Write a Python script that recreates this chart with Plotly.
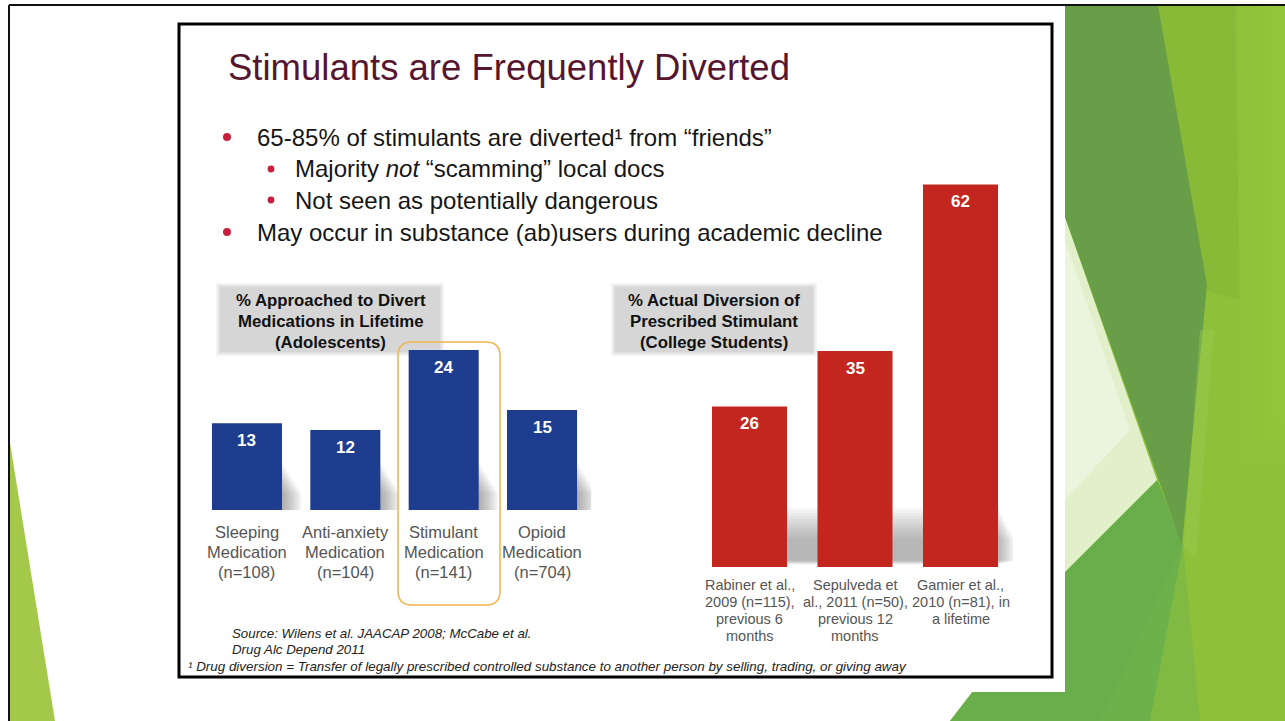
import plotly.graph_objects as go

W, H = 1285, 721

# ---- data -------------------------------------------------------------
adol_keys = ["Sleeping", "Anti-anxiety", "Stimulant", "Opioid"]
adol_labels = ["Sleeping<br>Medication<br>(n=108)",
               "Anti-anxiety<br>Medication<br>(n=104)",
               "Stimulant<br>Medication<br>(n=141)",
               "Opioid<br>Medication<br>(n=704)"]
adol_pct = [13, 12, 24, 15]

college_keys = ["Rabiner", "Sepulveda", "Gamier"]
college_labels = ["Rabiner et al.,<br>2009 (n=115),<br>previous 6<br>months",
                  "Sepulveda et<br>al., 2011 (n=50),<br>previous 12<br>months",
                  "Gamier et al.,<br>2010 (n=81), in<br>a lifetime"]
college_pct = [26, 35, 62]

title_text = "Stimulants are Frequently Diverted"
bullets = [
    (1, "65-85% of stimulants are diverted\u00b9 from \u201cfriends\u201d"),
    (2, "Majority <i>not</i> \u201cscamming\u201d local docs"),
    (2, "Not seen as potentially dangerous"),
    (1, "May occur in substance (ab)users during academic decline"),
]
left_heading = ["% Approached to Divert", "Medications in Lifetime", "(Adolescents)"]
right_heading = ["% Actual Diversion of", "Prescribed Stimulant", "(College Students)"]
source_lines = ["Source: Wilens et al. JAACAP 2008; McCabe et al.", "Drug Alc Depend 2011"]
footnote = ("\u00b9 Drug diversion = Transfer of legally prescribed controlled substance "
            "to another person by selling, trading, or giving away")

FONT = "Liberation Sans, Arial, sans-serif"
BLUE = "#1f3d8e"
RED = "#c3261e"


def fx(x):
    return x / W


def fy(y):
    return 1 - y / H


def poly(pts):
    return "M " + " L ".join(f"{fx(x):.5f},{fy(y):.5f}" for x, y in pts) + " Z"


fig = go.Figure()

fig.add_trace(go.Bar(x=adol_keys, y=adol_pct, width=0.712, marker=dict(color=BLUE, line=dict(width=0)),
                     xaxis="x", yaxis="y", hoverinfo="skip"))
fig.add_trace(go.Bar(x=college_keys, y=college_pct, width=0.711, marker=dict(color=RED, line=dict(width=0)),
                     xaxis="x2", yaxis="y2", hoverinfo="skip"))

shapes = []


def bg(pts, color, opacity=1.0):
    shapes.append(dict(type="path", xref="paper", yref="paper", layer="below", line_width=0,
                       path=poly(pts), fillcolor=color, opacity=opacity))


# ---- slide background ---------------------------------------------------
shapes.append(dict(type="rect", xref="paper", yref="paper", x0=fx(1065), x1=1, y0=0, y1=fy(5),
                   fillcolor="#8ec03a", line_width=0, layer="below"))
# slightly darker middle and brighter right edge of the light green field
bg([(1158, 5), (1235, 5), (1240, 300), (1207, 290)], "#84b433", 0.5)
for k in range(6):
    bg([(1238 + 8 * k, 5), (1285, 5), (1285, 470 - 10 * k), (1238 + 8 * k, 470 - 10 * k)], "#9ccb44", 0.12)
# bottom medium green wedge with a soft transition to the right
bg([(1183, 545), (1200, 721), (1120, 721)], "#80ba42")
bg([(1157, 480), (1183, 545), (1150, 721), (950, 721), (1065, 572)], "#6db14a")
bg([(1157, 480), (1183, 545), (1100, 721), (950, 721), (1065, 572)], "#69ae4a")
# pale triangle
bg([(1065, 217), (1157, 480), (1065, 572)], "#e1efca")
bg([(1065, 240), (1130, 430), (1065, 500)], "#f0f7e4", 0.7)
# dark green band
bg([(1065, 5), (1158, 5), (1207, 285), (1182, 545), (1065, 217)], "#679e47")
bg([(1200, 330), (1214, 330), (1196, 560), (1184, 548)], "#a0cc5a", 0.35)
# white slide area
shapes.append(dict(type="rect", xref="paper", yref="paper", x0=0, x1=fx(1065), y0=fy(692), y1=1,
                   fillcolor="white", line_width=0, layer="below"))
shapes.append(dict(type="rect", xref="paper", yref="paper", x0=0, x1=1, y0=fy(4), y1=1,
                   fillcolor="white", line_width=0, layer="below"))
# left green triangle
bg([(10, 443), (55, 721), (10, 721)], "#a3c84a")
# outer frame
shapes.append(dict(type="line", xref="paper", yref="paper", x0=fx(9), x1=1, y0=fy(5), y1=fy(5),
                   line=dict(color="#111", width=2), layer="below"))
shapes.append(dict(type="line", xref="paper", yref="paper", x0=fx(9), x1=fx(9), y0=fy(5), y1=0,
                   line=dict(color="#111", width=2), layer="below"))
# inner slide box
shapes.append(dict(type="rect", xref="paper", yref="paper", x0=fx(179), x1=fx(1052), y0=fy(677), y1=fy(24),
                   fillcolor="white", line=dict(color="#000", width=3), layer="below"))

# ---- heading boxes ------------------------------------------------------
for (x0, x1) in [(220, 440), (615, 813)]:
    for pad, col in [(4, "rgba(215,215,215,0.3)"), (2, "rgba(212,212,212,0.55)"), (0, "#d6d6d6")]:
        shapes.append(dict(type="rect", xref="paper", yref="paper", layer="below", line_width=0,
                           x0=fx(x0 - pad), x1=fx(x1 + pad), y0=fy(352 + pad), y1=fy(287 - pad),
                           fillcolor=col))

# ---- soft floor shadows next to the bars -------------------------------
for i, v in enumerate(adol_pct):
    for k in range(12):
        shapes.append(dict(type="rect", xref="x", yref="y", layer="below", line_width=0,
                           x0=i + 0.30, x1=i + 0.37 + 0.017 * k, y0=0, y1=7.0 - 0.4 * k,
                           fillcolor="rgba(80,80,80,0.045)"))
for k in range(12):
    shapes.append(dict(type="rect", xref="x2", yref="y2", layer="below", line_width=0,
                       x0=0.3, x1=2.36 + 0.014 * k, y0=0.4 + 0.06 * k, y1=9.6 - 0.45 * k,
                       fillcolor="rgba(80,80,80,0.04)"))

# ---- highlight around the stimulant bar --------------------------------
bx0, bx1, by0, by1, r = 398, 500, 342, 605, 14
path = (f"M {fx(bx0 + r):.5f},{fy(by0):.5f} L {fx(bx1 - r):.5f},{fy(by0):.5f} "
        f"Q {fx(bx1):.5f},{fy(by0):.5f} {fx(bx1):.5f},{fy(by0 + r):.5f} "
        f"L {fx(bx1):.5f},{fy(by1 - r):.5f} "
        f"Q {fx(bx1):.5f},{fy(by1):.5f} {fx(bx1 - r):.5f},{fy(by1):.5f} "
        f"L {fx(bx0 + r):.5f},{fy(by1):.5f} "
        f"Q {fx(bx0):.5f},{fy(by1):.5f} {fx(bx0):.5f},{fy(by1 - r):.5f} "
        f"L {fx(bx0):.5f},{fy(by0 + r):.5f} "
        f"Q {fx(bx0):.5f},{fy(by0):.5f} {fx(bx0 + r):.5f},{fy(by0):.5f} Z")
shapes.append(dict(type="path", xref="paper", yref="paper", path=path,
                   line=dict(color="#f0b44a", width=1.5), layer="above"))

# ---- bullet dots --------------------------------------------------------
bullet_pos = [(227, 137, 4.0), (271, 169, 3.4), (271, 200, 3.4), (227, 232, 4.0)]
for (x, y, rad) in bullet_pos:
    shapes.append(dict(type="circle", xref="paper", yref="paper", line_width=0, fillcolor="#c8203c",
                       x0=fx(x - rad), x1=fx(x + rad), y0=fy(y + rad), y1=fy(y - rad)))

annotations = []


def txt(x, y, text, size, color="#111", xanchor="left", yanchor="middle", **kw):
    annotations.append(dict(x=fx(x), y=fy(y), xref="paper", yref="paper", text=text, showarrow=False,
                            xanchor=xanchor, yanchor=yanchor,
                            font=dict(family=FONT, size=size, color=color), **kw))


txt(226, 68, title_text, 36.5, color="#561630")
line_y = [137, 168, 200, 232]
for (lvl, text), y in zip(bullets, line_y):
    txt(255 if lvl == 1 else 293, y, text, 24, color="#161616")

for cx, heading in [(331, left_heading), (714, right_heading)]:
    for j, line in enumerate(heading):
        txt(cx, 300 + 21 * j, f"<b>{line}</b>", 16.8, color="#111", xanchor="center")

txt(230, 633, f"<i>{source_lines[0]}</i>", 13.3, color="#222")
txt(230, 649, f"<i>{source_lines[1]}</i>", 13.3, color="#222")
txt(186, 666, f"<i>{footnote}</i>", 13.4, color="#222")

# value labels inside the bars
for k, v in zip(adol_keys, adol_pct):
    annotations.append(dict(x=k, y=v, xref="x", yref="y", text=f"<b>{v}</b>", showarrow=False,
                            yanchor="middle", yshift=-17, font=dict(family=FONT, size=17, color="white")))
for k, v in zip(college_keys, college_pct):
    annotations.append(dict(x=k, y=v, xref="x2", yref="y2", text=f"<b>{v}</b>", showarrow=False,
                            yanchor="middle", yshift=-17, font=dict(family=FONT, size=17, color="white")))

# category labels under the bars, one annotation per line
for k, lab in zip(adol_keys, adol_labels):
    for j, line in enumerate(lab.split("<br>")):
        annotations.append(dict(x=k, y=fy(532 + 20 * j), xref="x", yref="paper", text=line, showarrow=False,
                                yanchor="middle", font=dict(family=FONT, size=16.5, color="#555")))
for k, lab in zip(college_keys, college_labels):
    for j, line in enumerate(lab.split("<br>")):
        annotations.append(dict(x=k, y=fy(585 + 17 * j), xref="x2", yref="paper", text=line, showarrow=False,
                                yanchor="middle", font=dict(family=FONT, size=14.5, color="#555")))

fig.update_layout(
    width=W, height=H, margin=dict(l=0, r=0, t=0, b=0),
    paper_bgcolor="white", plot_bgcolor="rgba(0,0,0,0)", showlegend=False,
    xaxis=dict(domain=[fx(197.8), fx(591.2)], range=[-0.5, 3.5], type="category",
               categoryorder="array", categoryarray=adol_keys, visible=False, fixedrange=True),
    yaxis=dict(domain=[fy(510), fy(310)], range=[0, 30], visible=False, fixedrange=True),
    xaxis2=dict(domain=[fx(696.75), fx(1013.25)], range=[-0.5, 2.5], type="category",
                categoryorder="array", categoryarray=college_keys, visible=False, anchor="y2",
                fixedrange=True),
    yaxis2=dict(domain=[fy(567), fy(166)], range=[0, 65], visible=False, anchor="x2", fixedrange=True),
    shapes=shapes, annotations=annotations,
)

fig.write_html("out.html", config={"displayModeBar": False})
